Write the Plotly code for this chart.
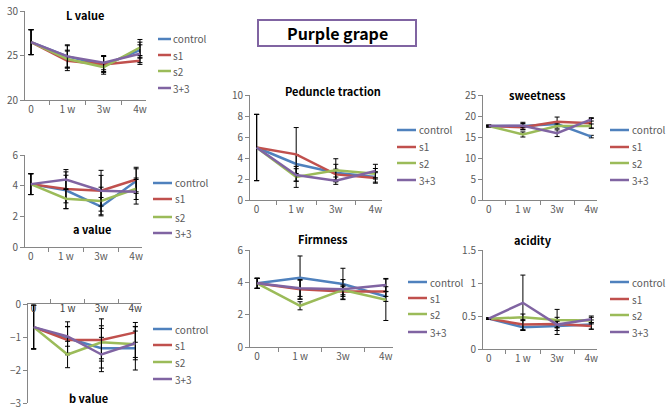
import plotly.graph_objects as go

W, H = 667, 413

cats = ["0", "1 w", "3w", "4w"]
series_names = ["control", "s1", "s2", "3+3"]
colors = ["#4F81BD", "#C0504D", "#9BBB59", "#8064A2"]

# ---- data ----
L_control = [26.5, 24.9, 23.9, 25.6]
L_s1 = [26.5, 24.4, 24.0, 24.4]
L_s2 = [26.5, 24.6, 23.7, 25.9]
L_33 = [26.5, 24.9, 24.2, 25.2]
L_err_control = [1.4, 1.2, 1.0, 0.9]
L_err_s1 = [1.4, 1.1, 0.9, 0.4]
L_err_s2 = [1.4, 1.0, 0.5, 0.9]
L_err_33 = [1.4, 1.3, 0.8, 1.0]

a_control = [4.1, 3.7, 2.63, 4.3]
a_s1 = [4.1, 3.78, 3.67, 4.4]
a_s2 = [4.1, 3.15, 3.0, 3.8]
a_33 = [4.1, 4.4, 3.67, 3.6]
a_err_control = [0.68, 1.2, 0.6, 0.8]
a_err_s1 = [0.68, 0.9, 1.33, 0.8]
a_err_s2 = [0.68, 0.65, 0.9, 0.7]
a_err_33 = [0.68, 0.65, 1.0, 0.8]

b_control = [-0.7, -1.04, -1.34, -1.34]
b_s1 = [-0.7, -1.09, -1.09, -0.86]
b_s2 = [-0.7, -1.53, -1.16, -1.22]
b_33 = [-0.7, -0.98, -1.53, -1.19]
b_err_control = [0.66, 0.5, 0.6, 0.66]
b_err_s1 = [0.66, 0.4, 0.64, 0.3]
b_err_s2 = [0.66, 0.4, 0.5, 0.4]
b_err_33 = [0.66, 0.3, 0.52, 0.5]

ped_control = [5.0, 3.43, 2.6, 2.2]
ped_s1 = [5.0, 4.35, 2.44, 2.1]
ped_s2 = [5.0, 2.2, 2.83, 2.5]
ped_33 = [5.0, 2.38, 1.84, 2.76]
ped_err_control = [3.15, 0.9, 0.8, 0.5]
ped_err_s1 = [3.15, 2.55, 0.5, 0.5]
ped_err_s2 = [3.15, 1.0, 1.1, 0.5]
ped_err_33 = [3.15, 0.6, 0.35, 0.64]

firm_control = [3.94, 4.29, 3.9, 3.12]
firm_s1 = [3.94, 3.57, 3.43, 3.43]
firm_s2 = [3.94, 2.55, 3.53, 2.92]
firm_33 = [3.94, 3.63, 3.57, 3.84]
firm_err_control = [0.31, 1.34, 0.97, 0.3]
firm_err_s1 = [0.31, 0.6, 0.3, 0.3]
firm_err_s2 = [0.31, 0.25, 0.3, 1.28]
firm_err_33 = [0.31, 0.5, 0.6, 0.4]

sweet_control = [17.6, 17.6, 18.1, 15.1]
sweet_s1 = [17.6, 17.3, 18.65, 18.25]
sweet_s2 = [17.6, 15.6, 17.6, 17.6]
sweet_33 = [17.6, 17.7, 15.9, 19.2]
sweet_err_control = [0.2, 0.9, 0.5, 0.3]
sweet_err_s1 = [0.2, 0.5, 1.1, 1.15]
sweet_err_s2 = [0.2, 0.6, 0.5, 0.5]
sweet_err_33 = [0.2, 0.5, 0.8, 0.4]

acid_control = [0.46, 0.33, 0.35, 0.37]
acid_s1 = [0.46, 0.37, 0.38, 0.35]
acid_s2 = [0.46, 0.48, 0.44, 0.43]
acid_33 = [0.46, 0.70, 0.37, 0.45]
acid_err_control = [0.01, 0.04, 0.13, 0.07]
acid_err_s1 = [0.01, 0.08, 0.05, 0.05]
acid_err_s2 = [0.01, 0.05, 0.16, 0.05]
acid_err_33 = [0.01, 0.42, 0.05, 0.05]

FONT = "Noto Sans CJK KR, Noto Sans, sans-serif"
TICKC = "#595959"
AXC = "#868686"

# (title, values, errors, x0, x1, ytop, ybot, yrange, dtick, title pos,
#  legend (line x0, line x1, [row y]), x axis at top)
panels = [
    ("L value", [L_control, L_s1, L_s2, L_33], [L_err_control, L_err_s1, L_err_s2, L_err_33],
     25, 146, 11, 100, [20, 30], 5, (85, 15), (158, 171, [39, 55, 71, 88]), False),
    ("a value", [a_control, a_s1, a_s2, a_33], [a_err_control, a_err_s1, a_err_s2, a_err_33],
     25, 142, 155, 247, [0, 6], 2, (92, 229), (153, 172, [183, 199, 217, 233]), False),
    ("b value", [b_control, b_s1, b_s2, b_33], [b_err_control, b_err_s1, b_err_s2, b_err_33],
     28, 141, 304, 403, [-3, 0], 1, (88, 398), (153, 172, [329, 345, 362, 379]), True),
    ("Peduncle traction", [ped_control, ped_s1, ped_s2, ped_33], [ped_err_control, ped_err_s1, ped_err_s2, ped_err_33],
     250, 382, 95, 200, [0, 10], 2, (333, 91), (397, 416, [130, 147, 163, 180]), False),
    ("Firmness", [firm_control, firm_s1, firm_s2, firm_33], [firm_err_control, firm_err_s1, firm_err_s2, firm_err_33],
     250, 393, 250, 347, [0, 6], 2, (323, 239), (408, 427, [282, 298, 314, 332]), False),
    ("sweetness", [sweet_control, sweet_s1, sweet_s2, sweet_33], [sweet_err_control, sweet_err_s1, sweet_err_s2, sweet_err_33],
     483, 597, 95, 200, [0, 25], 5, (537, 95), (610, 629, [130, 147, 163, 180]), False),
    ("acidity", [acid_control, acid_s1, acid_s2, acid_33], [acid_err_control, acid_err_s1, acid_err_s2, acid_err_33],
     483, 597, 250, 349, [0, 1.5], 0.5, (533, 240), (610, 629, [282, 299, 315, 332]), False),
]

fig = go.Figure()
layout = dict(
    width=W, height=H, margin=dict(l=0, r=0, t=0, b=0, autoexpand=False),
    paper_bgcolor="white", plot_bgcolor="rgba(0,0,0,0)",
    font=dict(family=FONT, size=10, color=TICKC),
    showlegend=False,
    annotations=[], shapes=[],
)


def px(x):
    return x / W


def py(y):
    return 1 - y / H


for i, (title, vals, errs, x0, x1, yt, yb, yr, dt, tpos, leg, top) in enumerate(panels):
    n = i + 1
    xa = "x" if n == 1 else f"x{n}"
    ya = "y" if n == 1 else f"y{n}"
    for name, v, e, c in zip(series_names, vals, errs, colors):
        fig.add_trace(go.Scatter(
            x=cats, y=v, name=name, mode="lines",
            line=dict(color=c, width=2.5),
            error_y=dict(type="data", array=e, visible=True, color="black", thickness=1, width=2.5),
            xaxis=xa, yaxis=ya, showlegend=False,
        ))
    xkey = "xaxis" if n == 1 else f"xaxis{n}"
    ykey = "yaxis" if n == 1 else f"yaxis{n}"
    xdef = dict(
        domain=[px(x0), px(x1)], type="category", anchor=ya,
        tickson="boundaries", ticks="outside", ticklen=4, tickcolor=AXC,
        showline=True, linecolor=AXC, linewidth=1, showgrid=False,
        tickfont=dict(size=10, color=TICKC), fixedrange=True,
    )
    if top:
        # axis line at the top (y = 0); category labels just below it, inside the plot
        xdef.update(side="top", showticklabels=False)
        fig.add_trace(go.Scatter(
            x=cats, y=[yr[1]] * len(cats), mode="text", text=cats,
            textposition="bottom center", cliponaxis=False,
            textfont=dict(size=10, color="#404040", family=FONT),
            xaxis=xa, yaxis=ya, showlegend=False, hoverinfo="skip",
        ))
    else:
        xdef.update(side="bottom")
    layout[xkey] = xdef
    layout[ykey] = dict(
        domain=[py(yb), py(yt)], anchor=xa, range=yr, dtick=dt,
        ticks="outside", ticklen=4, tickcolor=AXC,
        showline=True, linecolor=AXC, linewidth=1, showgrid=False,
        zeroline=False, tickfont=dict(size=10, color=TICKC), fixedrange=True,
    )
    layout["annotations"].append(dict(
        text=f"<b>{title}</b>", x=px(tpos[0]), y=py(tpos[1]), xref="paper", yref="paper",
        xanchor="center", yanchor="middle", showarrow=False,
        font=dict(size=11, color="black", family=FONT),
    ))
    # legend key
    lx0, lx1, rows = leg
    for name, c, ry in zip(series_names, colors, rows):
        layout["shapes"].append(dict(
            type="line", xref="paper", yref="paper",
            x0=px(lx0), x1=px(lx1), y0=py(ry), y1=py(ry),
            line=dict(color=c, width=2.5),
        ))
        layout["annotations"].append(dict(
            text=name, x=px(lx1 + 0.5), y=py(ry), xref="paper", yref="paper",
            xanchor="left", yanchor="middle", showarrow=False,
            font=dict(size=10, color=TICKC, family=FONT),
        ))

# main title box
layout["shapes"].append(dict(
    type="rect", xref="paper", yref="paper",
    x0=px(258), x1=px(416), y0=py(46), y1=py(20),
    line=dict(color="#8064A2", width=2), fillcolor="white",
))
layout["annotations"].append(dict(
    text="<b>Purple grape</b>", x=px(337), y=py(33), xref="paper", yref="paper",
    xanchor="center", yanchor="middle", showarrow=False,
    font=dict(size=16, color="black", family=FONT),
))

fig.update_layout(**layout)
fig.write_html(
    "out.html",
    config={"displayModeBar": False, "staticPlot": True},
    post_script="document.body.style.margin='0px';document.body.style.overflow='hidden';",
)
